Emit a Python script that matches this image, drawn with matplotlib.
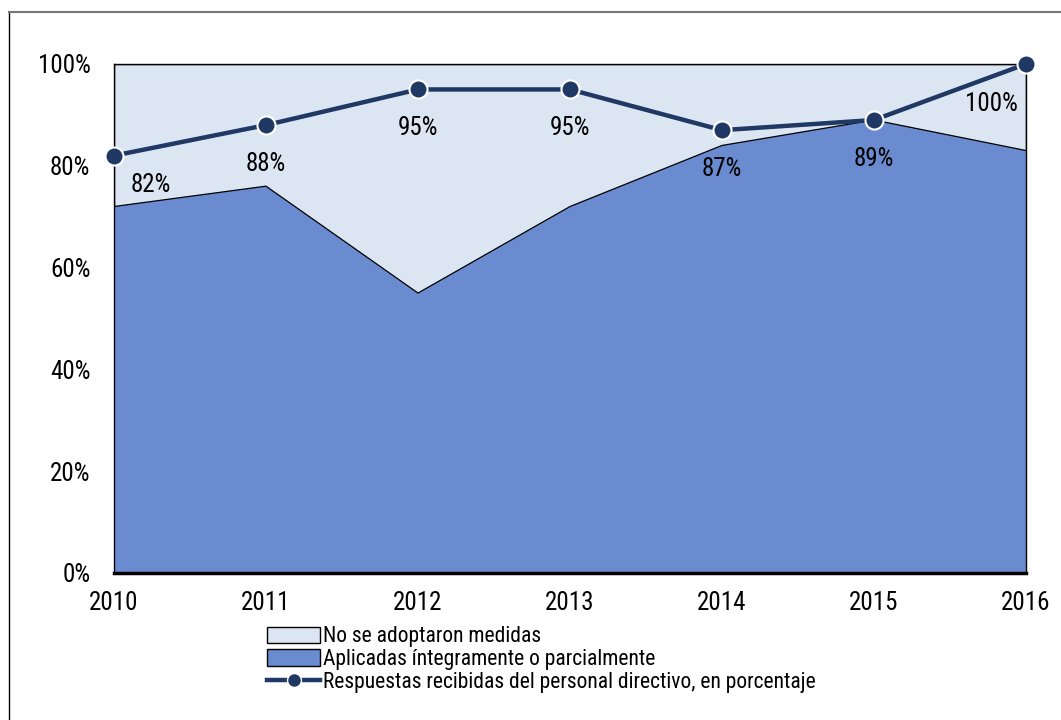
import matplotlib
matplotlib.use('Agg')
import matplotlib.pyplot as plt
from matplotlib.lines import Line2D
from matplotlib.patches import Patch

plt.rcParams['font.family'] = ['Roboto Condensed', 'DejaVu Sans']

years = [2010, 2011, 2012, 2013, 2014, 2015, 2016]
aplicadas = [72, 76, 55, 72, 84, 89, 83]
respuestas = [82, 88, 95, 95, 87, 89, 100]
total = [100] * len(years)

light = '#DCE6F2'
dark = '#6A8BCF'
navy = '#1F3864'

fig = plt.figure(figsize=(10.61, 7.2), dpi=100)
ax = fig.add_axes([114 / 1061, 1 - 573 / 720, (1026 - 114) / 1061, (573 - 64) / 720])

ax.fill_between(years, 0, total, color=light, edgecolor='black', lw=1, zorder=1)
ax.fill_between(years, 0, aplicadas, color=dark, edgecolor='none', zorder=2)
ax.plot(years, aplicadas, color='black', lw=0.9, zorder=3)
ax.plot(years, respuestas, color=navy, lw=3.2, marker='o', ms=13,
        mfc=navy, mec='white', mew=1.5, zorder=5, clip_on=False)

for i, (x, y) in enumerate(zip(years, respuestas)):
    if i == 0:
        ax.annotate(f'{y}%', (x, y), xytext=(12, -21), textcoords='offset points',
                    ha='left', va='center', fontsize=18)
    elif i == len(years) - 1:
        ax.annotate(f'{y}%', (x, y), xytext=(-6, -29), textcoords='offset points',
                    ha='right', va='center', fontsize=18)
    else:
        ax.annotate(f'{y}%', (x, y), xytext=(0, -28), textcoords='offset points',
                    ha='center', va='center', fontsize=18)

ax.set_xlim(2010, 2016)
ax.set_ylim(0, 100)
ax.set_xticks(years)
ax.set_yticks(range(0, 101, 20))
ax.set_yticklabels([f'{v}%' for v in range(0, 101, 20)])
ax.tick_params(axis='both', length=0, labelsize=18)
ax.tick_params(axis='y', pad=17)
ax.tick_params(axis='x', pad=13)
for s in ['top', 'left', 'right']:
    ax.spines[s].set_linewidth(1)
ax.spines['bottom'].set_linewidth(2.5)

# outer frame: top and left edges only
fig.add_artist(Line2D([9 / 1061, 9 / 1061], [0, 1 - 12 / 720], color='black', lw=1))
fig.add_artist(Line2D([9 / 1061, 1], [1 - 12 / 720, 1 - 12 / 720], color='#777777', lw=1.5))

handles = [
    Patch(facecolor=light, edgecolor='black', lw=1),
    Patch(facecolor=dark, edgecolor='black', lw=1),
    Line2D([], [], color=navy, lw=3.2, marker='o', ms=10, mfc=navy, mec='white', mew=1),
]
labels = ['No se adoptaron medidas',
          'Aplicadas íntegramente o parcialmente',
          'Respuestas recibidas del personal directivo, en porcentaje']
fig.legend(handles, labels, loc='upper left', bbox_to_anchor=(263 / 1061, 1 - 622 / 720),
           frameon=False, fontsize=15.5, handlelength=2.45, handleheight=0.8,
           handletextpad=0.12, labelspacing=0.08, borderaxespad=0, borderpad=0.2)

fig.savefig('out.png', dpi=100)
